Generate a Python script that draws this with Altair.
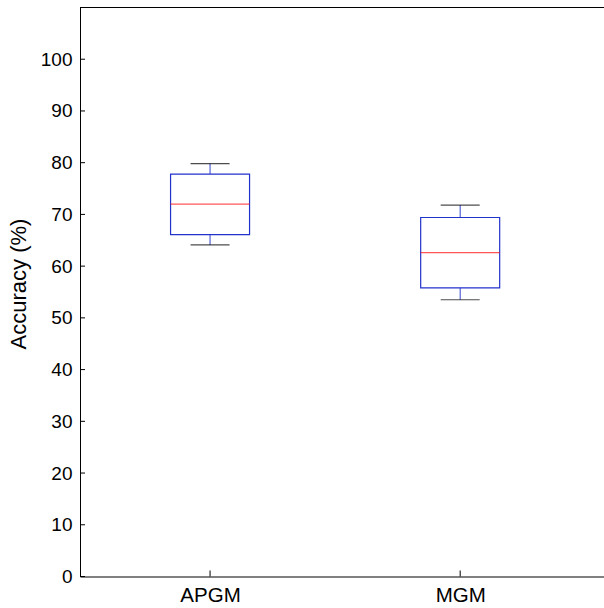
import altair as alt
import pandas as pd

categories = ["APGM", "MGM"]
positions = [1, 2]
whisker_low = [64.1, 53.5]
q1 = [66.1, 55.8]
median = [72.0, 62.6]
q3 = [77.8, 69.4]
whisker_high = [79.8, 71.8]
y_ticks = [0, 10, 20, 30, 40, 50, 60, 70, 80, 90, 100]

df = pd.DataFrame({
    "cat": categories, "pos": positions, "lo": whisker_low, "q1": q1,
    "med": median, "q3": q3, "hi": whisker_high,
})
ticks_df = pd.DataFrame({"v": y_ticks})

FONT = "Liberation Sans"
W, H = 524, 569

xscale = alt.Scale(domain=[0.5, 2.555], nice=False, zero=False)
yscale = alt.Scale(domain=[0, 110], nice=False)

x_enc = alt.X("pos:Q", scale=xscale, axis=alt.Axis(
    values=positions, title=None, grid=False, tickSize=0, labelPadding=9,
    labelExpr="datum.value == 1 ? 'APGM' : 'MGM'",
    labelFontSize=20.5, labelFont=FONT, labelColor="black",
    domainColor="black", domainWidth=1))

base = alt.Chart(df)

axes_layer = base.mark_point(opacity=0).encode(
    x=x_enc,
    y=alt.Y("med:Q", scale=yscale, axis=alt.Axis(
        values=y_ticks, title="Accuracy (%)", grid=False, tickSize=0,
        labelPadding=8, labelFontSize=19, labelFont=FONT, labelColor="black",
        titleFontSize=22, titleFont=FONT, titleFontWeight="normal",
        titleColor="black", titlePadding=10, titleY=276,
        domainColor="black", domainWidth=1)),
)

whisk_low = base.mark_rule(color="#3344cc", strokeWidth=1).encode(
    x=alt.X("pos:Q", scale=xscale), y=alt.Y("lo:Q", scale=yscale), y2="q1:Q")
whisk_high = base.mark_rule(color="#3344cc", strokeWidth=1).encode(
    x=alt.X("pos:Q", scale=xscale), y=alt.Y("q3:Q", scale=yscale), y2="hi:Q")

box = base.mark_bar(size=79, fill="white", fillOpacity=0, stroke="#2233cc",
                    strokeWidth=1.2).encode(
    x=alt.X("pos:Q", scale=xscale), y=alt.Y("q1:Q", scale=yscale), y2="q3:Q")

med = base.mark_tick(orient="horizontal", size=79, thickness=1.2, color="#ff1010").encode(
    x=alt.X("pos:Q", scale=xscale), y=alt.Y("med:Q", scale=yscale))
cap_lo = base.mark_tick(orient="horizontal", size=39, thickness=1.2, color="black").encode(
    x=alt.X("pos:Q", scale=xscale), y=alt.Y("lo:Q", scale=yscale))
cap_hi = base.mark_tick(orient="horizontal", size=39, thickness=1.2, color="black").encode(
    x=alt.X("pos:Q", scale=xscale), y=alt.Y("hi:Q", scale=yscale))

ytick_marks = alt.Chart(ticks_df).mark_rule(color="black", strokeWidth=1).encode(
    y=alt.Y("v:Q", scale=yscale), x=alt.value(0), x2=alt.value(5))
xtick_marks = base.mark_rule(color="black", strokeWidth=1).encode(
    x=alt.X("pos:Q", scale=xscale), y=alt.value(H), y2=alt.value(H - 6))
top_border = alt.Chart(ticks_df).mark_rule(color="black", strokeWidth=1).encode(
    y=alt.value(0), x=alt.value(0), x2=alt.value(W + 20))

chart = alt.layer(
    axes_layer, whisk_low, whisk_high, box, med, cap_lo, cap_hi,
    ytick_marks, xtick_marks, top_border,
).properties(
    width=W, height=H,
    padding={"left": 80, "top": 7.5, "right": 0, "bottom": 31.5},
    autosize=alt.AutoSizeParams(type="none"),
    background="white",
).configure_view(stroke=None)

chart.save("out.html", embed_options={"renderer": "svg", "actions": False})
